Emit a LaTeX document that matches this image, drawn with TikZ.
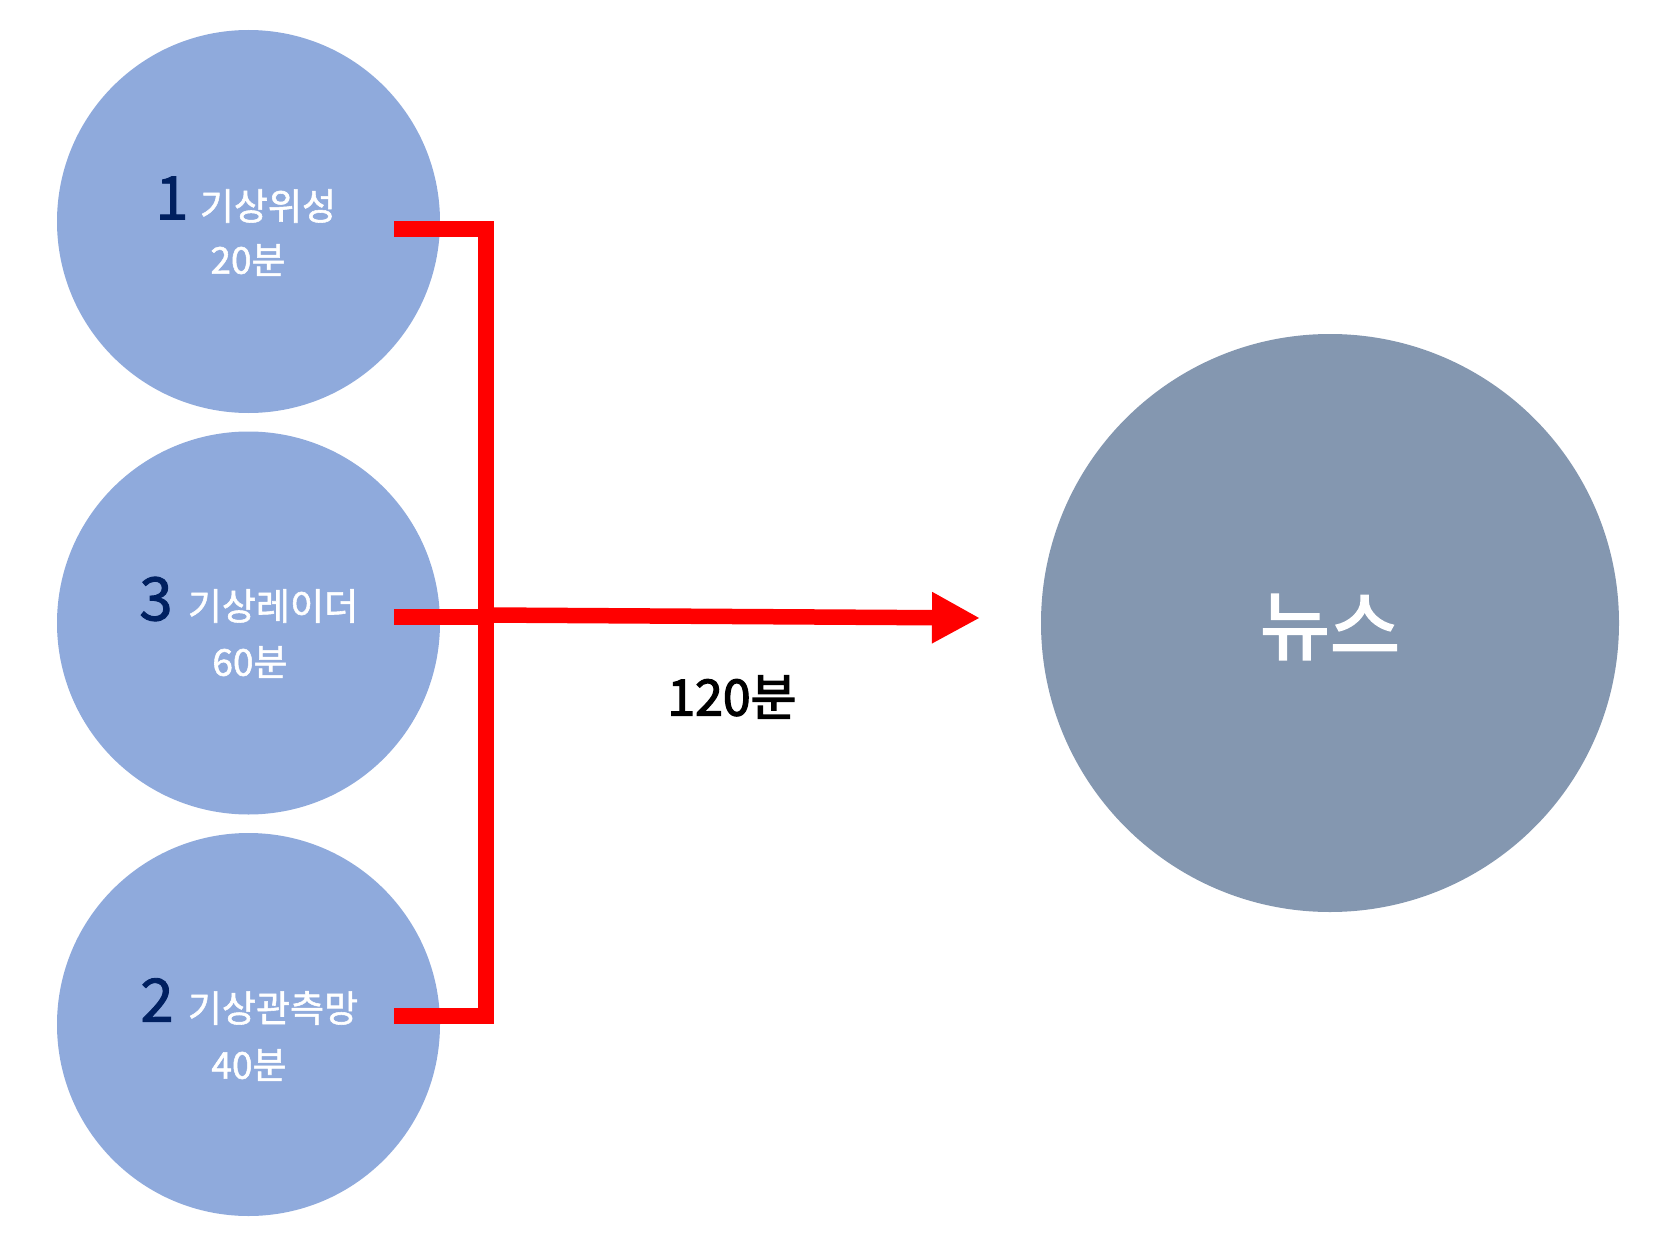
\documentclass[tikz,border=0pt]{standalone}
\usepackage{fontspec}
\setmainfont{Noto Sans CJK KR}
\newfontfamily\medfont[FakeBold=1.5]{Noto Sans CJK KR}
\newfontfamily\boldishfont[FakeBold=2.5]{Noto Sans CJK KR}
\usetikzlibrary{arrows.meta}
\definecolor{smallblue}{HTML}{8FAADC}
\definecolor{biggray}{HTML}{8497B0}
\definecolor{navy}{HTML}{002060}
\definecolor{redline}{HTML}{FF0000}
\tikzset{
  smallc/.style={circle,fill=smallblue,draw=none,minimum size=383pt,inner sep=0pt},
  bigc/.style={circle,fill=biggray,draw=none,minimum size=578pt,inner sep=0pt},
  numtxt/.style={text=navy,inner sep=0pt,font=\medfont\fontsize{60}{60}\selectfont},
  kortxt/.style={text=white,inner sep=0pt,font=\medfont\fontsize{37}{37}\selectfont},
  redconn/.style={draw=redline,line width=15.5pt,line join=miter,line cap=butt},
}
\begin{document}
\begin{tikzpicture}[x=1pt,y=-1pt]
\useasboundingbox (0,0) rectangle (1679,1244);
% circles
\node[smallc] (c1) at (248.5,221.5) {};
\node[smallc] (c3) at (248.5,623) {};
\node[smallc] (c2) at (248.5,1024.5) {};
\node[bigc] (news) at (1330,623) {};
% texts
\node[numtxt] (n1) at (172,198) {1};
\node[kortxt] (t1) at (268,206) {기상위성};
\node[kortxt] (m1) at (248,260) {20분};
\node[numtxt] (n3) at (156,599) {3};
\node[kortxt] (t3) at (273,606) {기상레이더};
\node[kortxt] (m3) at (250,662) {60분};
\node[numtxt] (n2) at (157,1000) {2};
\node[kortxt] (t2) at (273,1008) {기상관측망};
\node[kortxt] (m2) at (249,1065) {40분};
\node[text=white,inner sep=0pt,font=\boldishfont\fontsize{76}{76}\selectfont] (nt) at (1330,627) {뉴스};
\node[text=black,inner sep=0pt,font=\boldishfont\fontsize{50}{50}\selectfont] (tot) at (732,697) {120분};
% connectors
\coordinate (s1) at (394,229);
\coordinate (s3) at (394,617);
\coordinate (s2) at (394,1016);
\coordinate (j1) at (486,229);
\coordinate (j3) at (486,615);
\coordinate (j2) at (486,1016);
\coordinate (tip) at (980,618);
\draw[redconn] (s1) -- (j1) -- (j2) -- (s2);
\draw[redconn] (s3) -- (j3 |- s3);
\draw[redconn,-{Triangle[length=48pt,width=48pt]}] (j3) -- (tip);
\end{tikzpicture}
\end{document}
